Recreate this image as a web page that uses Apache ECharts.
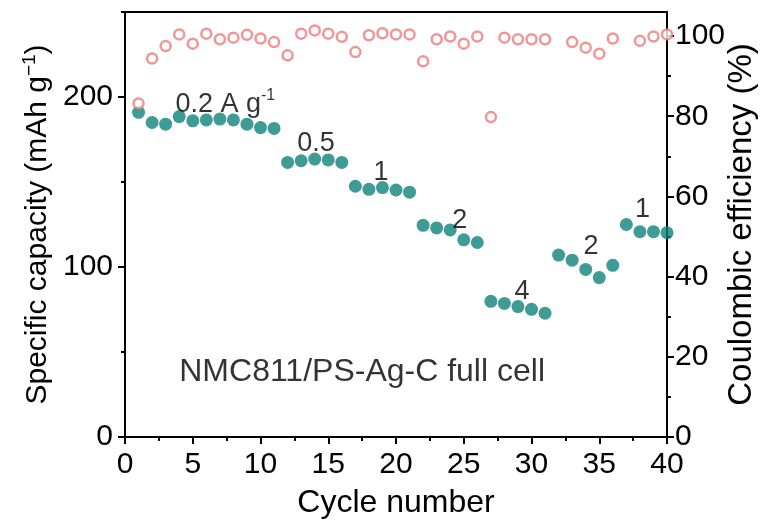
<!DOCTYPE html>
<html>
<head>
<meta charset="utf-8">
<script src="https://cdn.jsdelivr.net/npm/echarts@6/dist/echarts.min.js"></script>
<style>
  html, body { margin: 0; padding: 0; background: #fff; }
  #chart { width: 761px; height: 527px; }
</style>
</head>
<body>
<div id="chart"></div>
<script>
// Rate capability of the NMC811/PS-Ag-C full cell
const cycles = [1,2,3,4,5,6,7,8,9,10,11,12,13,14,15,16,17,18,19,20,
                21,22,23,24,25,26,27,28,29,30,31,32,33,34,35,36,37,38,39,40];

// Specific capacity (mAh g-1)
const capacity = [191,185,184,188.5,186,186.5,187,186.5,184,182,181.5,
                  161.5,162.5,163.5,163,161.5,
                  147.5,145.7,146.7,145.3,144,
                  124.5,123,121.8,116,114.4,
                  79.8,78.6,76.7,75.1,72.8,
                  107,104,98.6,93.8,101,
                  125,120.8,120.8,120.2];

// Coulombic efficiency (%), null where no point is plotted
const efficiency = [83.2,94.4,97.5,100.4,98.1,100.6,99.2,99.6,100.3,99.4,98.5,
                    95.2,100.6,101.4,100.6,99.8,
                    96.0,100.2,100.7,100.4,100.4,
                    93.7,99.2,99.9,98.1,99.9,
                    79.8,99.6,99.2,99.2,99.2,
                    null,98.5,97.1,95.6,99.4,
                    null,98.8,99.9,100.4];

// Current density annotations: text and anchor (cycle, capacity)
const rateLabels = ['{t|0.2 A g}{s|-1}', '0.5', '1', '2', '4', '2', '1'];
const rateAnchors = [[7.4, 196.5], [14.1, 172.5], [18.9, 155.5], [24.7, 127.5],
                     [29.3, 85.5], [34.4, 112], [38.2, 134]];
const cellLabel = 'NMC811/PS-Ag-C full cell';
const cellAnchor = [17.5, 38];

const xTicks = [0, 5, 10, 15, 20, 25, 30, 35, 40];
const capTicks = [0, 100, 200];
const capMinor = [50, 150, 250];
const ceTicks = [0, 20, 40, 60, 80, 100];
const ceMinor = [10, 30, 50, 70, 90];

const FONT = '"Liberation Sans", Arial, Helvetica, sans-serif';
const TEAL = '#0e827c';
const PINK = '#ee7b7b';

const chart = echarts.init(document.getElementById('chart'), null, { renderer: 'canvas' });

const lineStyle = { color: '#000', width: 2 };
const labelStyle = { color: '#000', fontSize: 30, fontFamily: FONT };
const textPlain = { textBorderWidth: 0, textShadowBlur: 0 };

function yAxisDef(opts) {
  return Object.assign({
    type: 'value',
    min: 0,
    splitLine: { show: false },
    nameMoveOverlap: false,
    axisLine: { show: true, onZero: false, lineStyle: lineStyle },
    axisTick: { show: true, length: 7, lineStyle: { color: '#000', width: 2 } },
    axisLabel: Object.assign({ margin: 12 }, labelStyle)
  }, opts);
}

const option = {
  backgroundColor: '#fff',
  animation: false,
  grid: {
    left: 125, right: 94, top: 12, bottom: 90,
    containLabel: false,
    outerBoundsMode: 'none',
    show: true, borderColor: '#000', borderWidth: 2, backgroundColor: 'transparent'
  },
  xAxis: {
    type: 'value',
    min: 0, max: 40, interval: 5,
    splitLine: { show: false },
    axisLine: { show: true, onZero: false, lineStyle: lineStyle },
    axisTick: { show: true, length: 7, lineStyle: { color: '#000', width: 2 } },
    minorTick: { show: true, splitNumber: 2, length: 4, lineStyle: { color: '#000', width: 2 } },
    axisLabel: Object.assign({ margin: 13, customValues: xTicks }, labelStyle),
    name: 'Cycle number',
    nameLocation: 'middle',
    nameGap: 50,
    nameTextStyle: { color: '#000', fontSize: 32, fontFamily: FONT }
  },
  yAxis: [
    yAxisDef({
      position: 'left', max: 250,
      axisTick: { show: true, length: 7, customValues: capTicks, lineStyle: { color: '#000', width: 2 } },
      axisLabel: Object.assign({ margin: 12, customValues: capTicks }, labelStyle),
      name: '{t|Specific capacity (mAh g}{s|−1}{t|)}',
      nameLocation: 'middle',
      nameRotate: 90,
      nameGap: 72,
      nameTextStyle: {
        rich: {
          t: { color: '#000', fontSize: 30, fontFamily: FONT, lineHeight: 33, verticalAlign: 'bottom' },
          s: { color: '#000', fontSize: 19, fontFamily: FONT, lineHeight: 33, verticalAlign: 'top' }
        }
      }
    }),
    yAxisDef({
      position: 'left', max: 250,
      axisLine: { show: false },
      axisTick: { show: true, length: 4, customValues: capMinor, lineStyle: { color: '#000', width: 2 } },
      axisLabel: { show: false }
    }),
    yAxisDef({
      position: 'right', max: 106,
      axisTick: { show: true, length: 7, customValues: ceTicks, lineStyle: { color: '#000', width: 2 } },
      axisLabel: Object.assign({ margin: 8, customValues: ceTicks }, labelStyle),
      name: 'Coulombic efficiency (%)',
      nameLocation: 'middle',
      nameRotate: 90,
      nameGap: 58,
      nameTextStyle: { color: '#000', fontSize: 33, fontFamily: FONT }
    }),
    yAxisDef({
      position: 'right', max: 106,
      axisLine: { show: false },
      axisTick: { show: true, length: 4, customValues: ceMinor, lineStyle: { color: '#000', width: 2 } },
      axisLabel: { show: false }
    })
  ],
  series: [
    {
      name: 'Specific capacity',
      type: 'scatter',
      yAxisIndex: 0,
      symbol: 'circle',
      symbolSize: 13,
      itemStyle: { color: TEAL },
      data: cycles.map((c, i) => [c, capacity[i]]),
      z: 3
    },
    {
      name: 'Coulombic efficiency',
      type: 'scatter',
      yAxisIndex: 2,
      symbol: 'circle',
      symbolSize: 10,
      itemStyle: { color: '#fff', borderColor: PINK, borderWidth: 2.5 },
      data: cycles.map((c, i) => efficiency[i] == null ? null : [c, efficiency[i]]).filter(d => d),
      z: 4
    },
    {
      name: 'Rate labels',
      type: 'scatter',
      yAxisIndex: 0,
      symbolSize: 0,
      silent: true,
      itemStyle: { color: 'transparent' },
      label: Object.assign({
        show: true,
        position: [0, 0],
        align: 'center',
        verticalAlign: 'middle',
        formatter: p => p.data.text,
        color: '#000', fontSize: 27, fontFamily: FONT,
        rich: {
          t: Object.assign({ color: '#000', fontSize: 27, fontFamily: FONT, lineHeight: 30, verticalAlign: 'bottom' }, textPlain),
          s: Object.assign({ color: '#000', fontSize: 16, fontFamily: FONT, lineHeight: 30, verticalAlign: 'top' }, textPlain)
        }
      }, textPlain),
      data: rateAnchors.map((a, i) => ({ value: a, text: rateLabels[i] })),
      z: 5
    },
    {
      name: 'Cell label',
      type: 'scatter',
      yAxisIndex: 0,
      symbolSize: 0,
      silent: true,
      itemStyle: { color: 'transparent' },
      label: Object.assign({
        show: true,
        position: [0, 0],
        align: 'center',
        verticalAlign: 'middle',
        formatter: () => cellLabel,
        color: '#000', fontSize: 32, fontFamily: FONT
      }, textPlain),
      data: [cellAnchor],
      z: 5
    }
  ]
};

chart.setOption(option);
</script>
</body>
</html>
